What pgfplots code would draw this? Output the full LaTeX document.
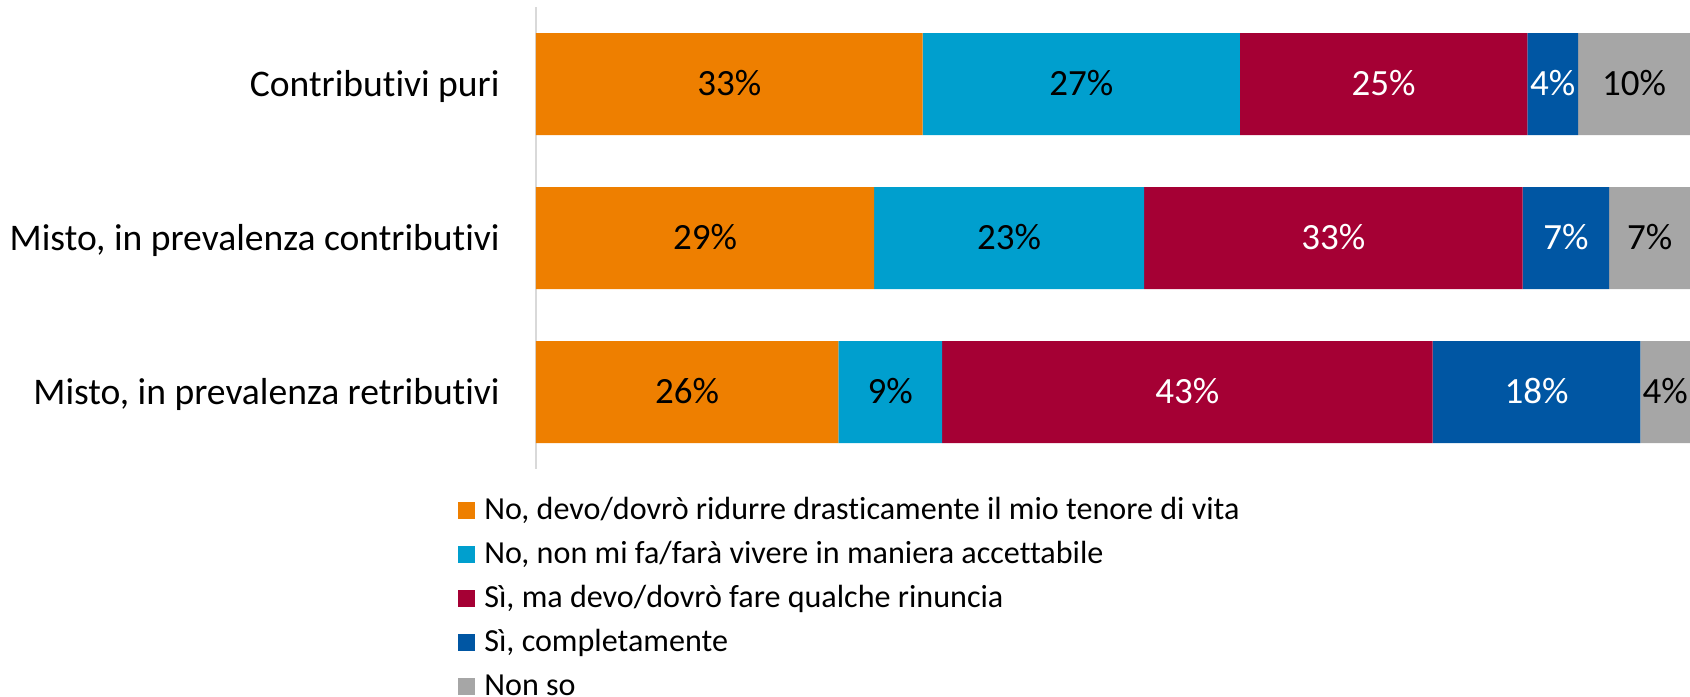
\documentclass[border=0pt]{standalone}
\usepackage{fontspec}
\setmainfont{Carlito}[Ligatures=NoCommon]
\usepackage{pgfplots}
\usepackage{pgfplotstable}
\pgfplotsset{compat=1.18}

\definecolor{c1}{RGB}{238,127,0}
\definecolor{c2}{RGB}{0,159,206}
\definecolor{c3}{RGB}{165,0,52}
\definecolor{c4}{RGB}{0,86,163}
\definecolor{c5}{RGB}{166,166,166}
\definecolor{axisg}{RGB}{217,217,217}

% bar lengths, labels as printed
\pgfplotstableread{
y a b c d e la lb lc ld le
0 33.5 27.5 24.9 4.4 9.7 33 27 25 4 10
1 29.3 23.4 32.8 7.5 7.0 29 23 33 7 7
2 26.2 9.0 42.5 18.0 4.3 26 9 43 18 4
}\data

\begin{document}
\begin{tikzpicture}
\begin{axis}[
  xbar stacked,
  x=5.77pt, y=77pt,
  xmin=0, xmax=100,
  ymin=-0.5, ymax=2.5,
  y dir=reverse,
  bar width=51pt,
  axis x line=none,
  axis y line*=left,
  y axis line style={draw=axisg, line width=0.75pt},
  xtick=\empty,
  ytick={0,1,2},
  yticklabels={Contributivi puri, {Misto, in prevalenza contributivi}, {Misto, in prevalenza retributivi}},
  major tick length=0pt,
  yticklabel style={font=\fontsize{18.8}{22}\selectfont, inner sep=0pt, xshift=-18pt,
    text height=12pt, text depth=0pt},
  point meta=explicit symbolic,
  nodes near coords={\pgfplotspointmeta\%},
  every node near coord/.append style={anchor=center, font=\fontsize{18.5}{22}\selectfont,
    text height=11.7pt, text depth=0pt, inner sep=0pt},
  clip=false,
  legend cell align=left,
  legend image code/.code={\fill[#1] (0pt,-3.8pt) rectangle (8.5pt,4.7pt);},
  legend style={at={(axis description cs:0,0)}, anchor=north west,
    xshift=-39pt, yshift=-12.8pt, draw=none, fill=none, inner sep=0pt,
    font=\fontsize{16.05}{19}\selectfont, row sep=6pt, column sep=4.5pt,
    nodes={inner sep=0pt, text height=12pt, text depth=4pt}},
]
\addplot[fill=c1, draw=none] table[x=a, y=y, meta=la] {\data};
\addplot[fill=c2, draw=none] table[x=b, y=y, meta=lb] {\data};
\addplot[fill=c3, draw=none, every node near coord/.append style={text=white}] table[x=c, y=y, meta=lc] {\data};
\addplot[fill=c4, draw=none, every node near coord/.append style={text=white}] table[x=d, y=y, meta=ld] {\data};
\addplot[fill=c5, draw=none] table[x=e, y=y, meta=le] {\data};
\legend{{No, devo/dovrò ridurre drasticamente il mio tenore di vita},
  {No, non mi fa/farà vivere in maniera accettabile},
  {Sì, ma devo/dovrò fare qualche rinuncia},
  {Sì, completamente},
  {Non so}}
\end{axis}
\pgfresetboundingbox
\path ([xshift=-268pt,yshift=3.5pt]current axis.north west) rectangle ([yshift=-113.5pt]current axis.south east);
\end{tikzpicture}
\end{document}
